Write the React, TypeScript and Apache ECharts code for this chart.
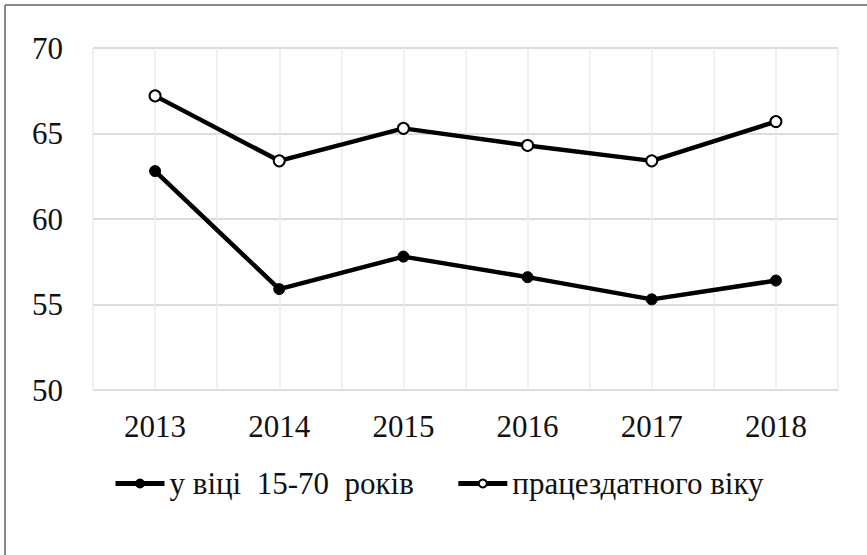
import React, { useEffect, useRef } from "react";
import * as echarts from "echarts";

const years = ["2013", "2014", "2015", "2016", "2017", "2018"];
const age1570 = [62.8, 55.9, 57.8, 56.6, 55.3, 56.4];
const workingAge = [67.2, 63.4, 65.3, 64.3, 63.4, 65.7];
const halfSteps = ["", "", "", "", "", "", "", "", "", "", "", ""];
const seriesNames = ["у віці  15-70  років", "працездатного віку"];

export default function App() {
  const ref = useRef<HTMLDivElement>(null);
  useEffect(() => {
    const chart = echarts.init(ref.current!, null, { renderer: "svg" });
    const font = "Liberation Serif";
    chart.setOption({
      animation: false,
      backgroundColor: "#ffffff",
      textStyle: { fontFamily: font },
      grid: { left: 93, right: 29, top: 48, bottom: 165, containLabel: false },
      legend: {
        top: 468,
        left: 113,
        itemWidth: 49,
        itemHeight: 10,
        itemGap: 42,
        padding: 0,
        lineStyle: { width: 5, color: "#000" },
        textStyle: { fontFamily: font, fontSize: 31, color: "#111" },
        data: [seriesNames[0], seriesNames[1]],
      },
      graphic: [
        { type: "line", shape: { x1: 5, y1: 5, x2: 867, y2: 5 }, style: { stroke: "#8a8a8a", lineWidth: 2 } },
        { type: "line", shape: { x1: 5, y1: 5, x2: 5, y2: 555 }, style: { stroke: "#8a8a8a", lineWidth: 2 } },
      ],
      xAxis: [
        {
          type: "category",
          data: years,
          boundaryGap: true,
          axisLine: { show: false },
          axisTick: { show: false },
          axisLabel: { fontFamily: font, fontSize: 31, color: "#111", margin: 21 },
          splitLine: { show: false },
        },
        {
          type: "category",
          data: halfSteps,
          boundaryGap: true,
          position: "bottom",
          axisLine: { show: false },
          axisTick: { show: false },
          axisLabel: { show: false },
          splitLine: { show: true, interval: 0, lineStyle: { color: "#ebebeb", width: 1.5 } },
        },
      ],
      yAxis: {
        type: "value",
        min: 50,
        max: 70,
        interval: 5,
        axisLine: { show: false },
        axisTick: { show: false },
        axisLabel: { fontFamily: font, fontSize: 31, color: "#111", margin: 30 },
        splitLine: { show: true, lineStyle: { color: "#dcdcdc", width: 2 } },
      },
      series: [
        {
          name: seriesNames[0],
          type: "line",
          data: age1570,
          xAxisIndex: 0,
          symbol: "circle",
          symbolSize: 11,
          lineStyle: { color: "#000", width: 4.5 },
          itemStyle: { color: "#000", borderColor: "#000", borderWidth: 1 },
          z: 3,
        },
        {
          name: seriesNames[1],
          type: "line",
          data: workingAge,
          xAxisIndex: 0,
          symbol: "circle",
          symbolSize: 11,
          lineStyle: { color: "#000", width: 4.5 },
          itemStyle: { color: "#fff", borderColor: "#000", borderWidth: 2 },
          z: 3,
        },
      ],
    });
    return () => chart.dispose();
  }, []);
  return (
    <div
      ref={ref}
      style={{ position: "absolute", left: 0, top: 0, width: 867, height: 555 }}
    />
  );
}
